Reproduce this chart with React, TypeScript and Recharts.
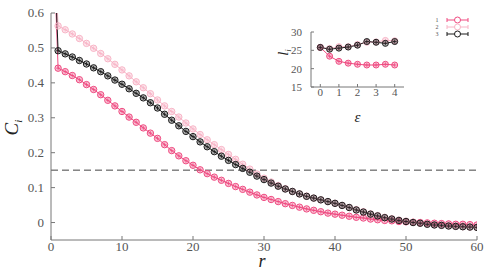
import React from 'react';
import { LineChart, Line, XAxis, YAxis, ReferenceLine, Legend } from 'recharts';

const rValues = [0, 1, 2, 3, 4, 5, 6, 7, 8, 9, 10, 11, 12, 13, 14, 15, 16, 17, 18, 19, 20, 21, 22, 23, 24, 25, 26, 27, 28, 29, 30, 31, 32, 33, 34, 35, 36, 37, 38, 39, 40, 41, 42, 43, 44, 45, 46, 47, 48, 49, 50, 51, 52, 53, 54, 55, 56, 57, 58, 59, 60];

const series1 = [1.0, 0.442, 0.432, 0.421, 0.409, 0.395, 0.381, 0.366, 0.35, 0.334, 0.318, 0.302, 0.287, 0.271, 0.256, 0.241, 0.223, 0.206, 0.191, 0.177, 0.164, 0.151, 0.14, 0.13, 0.121, 0.112, 0.103, 0.095, 0.087, 0.079, 0.072, 0.066, 0.06, 0.054, 0.049, 0.044, 0.039, 0.035, 0.031, 0.027, 0.024, 0.021, 0.018, 0.015, 0.013, 0.01, 0.008, 0.006, 0.005, 0.003, 0.002, 0.001, 0.0, -0.001, -0.002, -0.003, -0.004, -0.005, -0.005, -0.006, -0.007];

const series2 = [1.0, 0.563, 0.552, 0.54, 0.527, 0.513, 0.499, 0.484, 0.469, 0.453, 0.437, 0.42, 0.403, 0.386, 0.369, 0.351, 0.334, 0.318, 0.302, 0.285, 0.268, 0.252, 0.237, 0.223, 0.209, 0.195, 0.181, 0.167, 0.153, 0.139, 0.127, 0.116, 0.106, 0.097, 0.089, 0.082, 0.076, 0.07, 0.065, 0.06, 0.055, 0.049, 0.043, 0.037, 0.031, 0.025, 0.02, 0.015, 0.011, 0.007, 0.004, 0.001, -0.002, -0.004, -0.006, -0.008, -0.009, -0.011, -0.012, -0.013, -0.014];

const series3 = [1.0, 0.492, 0.483, 0.474, 0.464, 0.454, 0.443, 0.432, 0.42, 0.408, 0.396, 0.383, 0.37, 0.357, 0.343, 0.328, 0.31, 0.293, 0.277, 0.261, 0.246, 0.231, 0.217, 0.203, 0.19, 0.178, 0.166, 0.155, 0.144, 0.133, 0.123, 0.113, 0.104, 0.096, 0.089, 0.082, 0.075, 0.07, 0.065, 0.06, 0.055, 0.049, 0.043, 0.036, 0.03, 0.024, 0.019, 0.014, 0.01, 0.006, 0.003, 0.0, -0.002, -0.005, -0.007, -0.008, -0.01, -0.011, -0.012, -0.013, -0.014];

const mainTicksX = [0, 10, 20, 30, 40, 50, 60];
const mainTicksY = [0, 0.1, 0.2, 0.3, 0.4, 0.5, 0.6];
const thresholdValue = 0.15;

const epsValues = [0, 0.5, 1, 1.5, 2, 2.5, 3, 3.5, 4];
const inset1 = [25.8, 23.4, 22.0, 21.5, 21.2, 21.0, 21.0, 21.2, 21.0];
const inset2 = [25.8, 25.5, 26.0, 26.0, 26.6, 27.2, 27.3, 27.7, 27.6];
const inset3 = [25.8, 25.3, 25.6, 25.9, 26.4, 27.4, 27.2, 26.9, 27.4];
const insetTicksX = [0, 1, 2, 3, 4];
const insetTicksY = [15, 20, 25, 30];

const seriesNames = ['1', '2', '3'];
const COLORS = ['#ef4a80', '#f8b4c6', '#1a1a1a'];
const AXIS = '#777777';
const TEXT = '#555555';
const FONT = '"Liberation Serif", "DejaVu Serif", serif';

const mainData = rValues.map((r, i) => ({ r, s1: series1[i], s2: series2[i], s3: series3[i] }));
const insetData = epsValues.map((e, i) => ({ e, s1: inset1[i], s2: inset2[i], s3: inset3[i] }));

function makeDot(color: string, rad: number) {
  return (props: any) => {
    const { cx, cy, index, payload } = props;
    if (cx == null || cy == null || (payload && payload.r === 0)) return <g key={`d-${index}`} />;
    return (
      <g key={`d-${index}`}>
        <circle cx={cx} cy={cy} r={rad} fill={color} fillOpacity={0.3} stroke={color} strokeWidth={1} />
        <line x1={cx - 2} x2={cx + 2} y1={cy} y2={cy} stroke={color} strokeWidth={0.8} />
        <line x1={cx} x2={cx} y1={cy - 2} y2={cy + 2} stroke={color} strokeWidth={0.8} />
      </g>
    );
  };
}

const makeXTick = (len: number, dy: number, fs: number) => (props: any) => {
  const { x, y, payload } = props;
  return (
    <g>
      <line x1={x} x2={x} y1={y} y2={y - len} stroke={AXIS} strokeWidth={1} />
      <text x={x} y={y + dy} textAnchor="middle" fontSize={fs} fill={TEXT} fontFamily={FONT}>
        {payload.value}
      </text>
    </g>
  );
};

const makeYTick = (len: number, dx: number, fs: number) => (props: any) => {
  const { x, y, payload } = props;
  return (
    <g>
      <line x1={x} x2={x + len} y1={y} y2={y} stroke={AXIS} strokeWidth={1} />
      <text x={x - dx} y={y + 4} textAnchor="end" fontSize={fs} fill={TEXT} fontFamily={FONT}>
        {payload.value}
      </text>
    </g>
  );
};

const mainYLabel = (props: any) => {
  const vb = props.viewBox;
  const x = vb.x + 18;
  const y = vb.y + vb.height / 2 + 1;
  return (
    <text x={x} y={y} transform={`rotate(-90 ${x} ${y})`} textAnchor="middle" fontFamily={FONT} fontStyle="italic" fontSize={19} fill="#222">
      C<tspan fontSize={11} dy={4}>i</tspan>
    </text>
  );
};

const mainXLabel = (props: any) => {
  const vb = props.viewBox;
  return (
    <text x={vb.x + vb.width / 2 - 2} y={vb.y + 27} textAnchor="middle" fontFamily={FONT} fontStyle="italic" fontSize={18} fill="#222">
      r
    </text>
  );
};

const insetYLabel = (props: any) => {
  const vb = props.viewBox;
  const x = vb.x + 33;
  const y = vb.y + vb.height / 2 - 7;
  return (
    <text x={x} y={y} transform={`rotate(-90 ${x} ${y})`} textAnchor="middle" fontFamily={FONT} fontStyle="italic" fontSize={15} fill="#222">
      l<tspan fontSize={9} dy={3}>i</tspan>
    </text>
  );
};

const insetXLabel = (props: any) => {
  const vb = props.viewBox;
  return (
    <text x={vb.x + vb.width / 2} y={vb.y + 35} textAnchor="middle" fontFamily={FONT} fontStyle="italic" fontSize={15} fill="#222">
      ε
    </text>
  );
};

const LegendBox = () => (
  <svg width={48} height={28}>
    {seriesNames.map((name, i) => {
      const y = 5 + i * 7;
      const c = COLORS[i];
      return (
        <g key={name}>
          <text x={7} y={y + 2.2} textAnchor="middle" fontSize={6} fill={TEXT} fontFamily={FONT}>{name}</text>
          <line x1={17} x2={38} y1={y} y2={y} stroke={c} strokeWidth={1} />
          <line x1={17} x2={17} y1={y - 2} y2={y + 2} stroke={c} strokeWidth={1} />
          <line x1={38} x2={38} y1={y - 2} y2={y + 2} stroke={c} strokeWidth={1} />
          <circle cx={27.5} cy={y} r={3} fill="#fff" stroke={c} strokeWidth={1} />
        </g>
      );
    })}
  </svg>
);

export default function App() {
  return (
    <div style={{ position: 'absolute', left: 0, top: 0, width: 491, height: 278, background: '#fff' }}>
      <LineChart width={491} height={278} data={mainData} margin={{ top: 13, right: 14, bottom: 8, left: 0 }}>
        <XAxis dataKey="r" type="number" domain={[0, 60]} ticks={mainTicksX} tickSize={0} tickMargin={0} tickLine={false}
          tick={makeXTick(4, 11, 13)} stroke={AXIS} height={30} interval={0} label={mainXLabel} allowDataOverflow />
        <XAxis xAxisId="top" dataKey="r" type="number" orientation="top" domain={[0, 60]} tick={false} tickLine={false} height={0} stroke={AXIS} />
        <YAxis type="number" domain={[-0.05, 0.6]} ticks={mainTicksY} tickSize={0} tickMargin={0} tickLine={false}
          tick={makeYTick(4, 7, 13)} stroke={AXIS} width={51} interval={0} label={mainYLabel} allowDataOverflow />
        <YAxis yAxisId="right" orientation="right" type="number" domain={[-0.05, 0.6]} tick={false} tickLine={false} width={0} stroke={AXIS} />
        <ReferenceLine y={thresholdValue} stroke="#444" strokeWidth={1} strokeDasharray="7 4" />
        <Line dataKey="s1" name={seriesNames[0]} stroke={COLORS[0]} strokeWidth={1} dot={makeDot(COLORS[0], 3.2)} isAnimationActive={false} />
        <Line dataKey="s2" name={seriesNames[1]} stroke={COLORS[1]} strokeWidth={1} dot={makeDot(COLORS[1], 3.2)} isAnimationActive={false} />
        <Line dataKey="s3" name={seriesNames[2]} stroke={COLORS[2]} strokeWidth={1} dot={makeDot(COLORS[2], 3.2)} isAnimationActive={false} />
        <Legend content={() => <LegendBox />} layout="horizontal" verticalAlign="middle" align="center"
          wrapperStyle={{ position: 'absolute', left: 430, top: 15, width: 48, height: 28 }} />
      </LineChart>
      <div style={{ position: 'absolute', left: 255, top: 20 }}>
        <LineChart width={160} height={105} data={insetData} margin={{ top: 12, right: 11, bottom: 8, left: 0 }}>
          <XAxis dataKey="e" type="number" domain={[-0.5, 4.5]} ticks={insetTicksX} tickSize={0} tickMargin={0} tickLine={false}
            tick={makeXTick(3, 9, 11)} stroke={AXIS} height={30} interval={0} label={insetXLabel} />
          <XAxis xAxisId="top" dataKey="e" type="number" orientation="top" domain={[-0.5, 4.5]} tick={false} tickLine={false} height={0} stroke={AXIS} />
          <YAxis type="number" domain={[15, 30]} ticks={insetTicksY} tickSize={0} tickMargin={0} tickLine={false}
            tick={makeYTick(3, 9, 11)} stroke={AXIS} width={56} interval={0} label={insetYLabel} />
          <YAxis yAxisId="right" orientation="right" type="number" domain={[15, 30]} tick={false} tickLine={false} width={0} stroke={AXIS} />
          <Line dataKey="s1" stroke={COLORS[0]} strokeWidth={1} dot={makeDot(COLORS[0], 3)} isAnimationActive={false} />
          <Line dataKey="s2" stroke={COLORS[1]} strokeWidth={1} dot={makeDot(COLORS[1], 3)} isAnimationActive={false} />
          <Line dataKey="s3" stroke={COLORS[2]} strokeWidth={1} dot={makeDot(COLORS[2], 3)} isAnimationActive={false} />
        </LineChart>
      </div>
    </div>
  );
}
